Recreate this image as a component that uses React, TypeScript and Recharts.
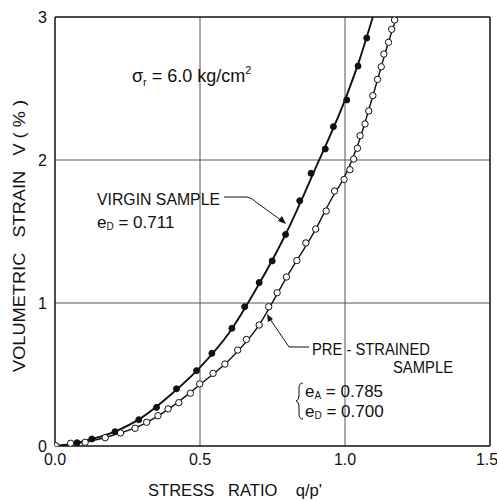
import { ComposedChart, Line, Scatter, XAxis, YAxis, ReferenceLine } from 'recharts';

// stress ratio q/p' vs volumetric strain V (%)
const xTicks = [0, 0.5, 1.0, 1.5];
const yTicks = [0, 1, 2, 3];

// measured points, virgin sample (filled dots)
const virginPoints = [
  { q: 0.076, v: 0.023 }, { q: 0.127, v: 0.049 }, { q: 0.207, v: 0.10 }, { q: 0.289, v: 0.184 },
  { q: 0.350, v: 0.27 }, { q: 0.419, v: 0.40 }, { q: 0.488, v: 0.527 }, { q: 0.541, v: 0.648 },
  { q: 0.610, v: 0.823 }, { q: 0.654, v: 0.974 }, { q: 0.704, v: 1.143 }, { q: 0.749, v: 1.294 },
  { q: 0.795, v: 1.479 }, { q: 0.844, v: 1.715 }, { q: 0.883, v: 1.907 }, { q: 0.932, v: 2.077 },
  { q: 0.960, v: 2.233 }, { q: 1.006, v: 2.420 }, { q: 1.045, v: 2.657 }, { q: 1.075, v: 2.853 },
];

// measured points, pre-strained sample (open dots)
const preStrainedPoints = [
  { q: 0.003, v: 0.002 }, { q: 0.054, v: 0.019 }, { q: 0.104, v: 0.026 }, { q: 0.173, v: 0.058 },
  { q: 0.226, v: 0.091 }, { q: 0.276, v: 0.124 }, { q: 0.316, v: 0.166 }, { q: 0.355, v: 0.212 },
  { q: 0.390, v: 0.259 }, { q: 0.427, v: 0.303 }, { q: 0.467, v: 0.369 }, { q: 0.499, v: 0.434 },
  { q: 0.545, v: 0.508 }, { q: 0.586, v: 0.573 }, { q: 0.630, v: 0.671 }, { q: 0.660, v: 0.745 },
  { q: 0.704, v: 0.846 }, { q: 0.737, v: 0.974 }, { q: 0.766, v: 1.072 }, { q: 0.798, v: 1.182 },
  { q: 0.834, v: 1.297 }, { q: 0.865, v: 1.420 }, { q: 0.899, v: 1.517 }, { q: 0.935, v: 1.643 },
  { q: 0.964, v: 1.783 }, { q: 0.997, v: 1.864 }, { q: 1.017, v: 1.932 }, { q: 1.030, v: 2.007 },
  { q: 1.043, v: 2.082 }, { q: 1.052, v: 2.170 }, { q: 1.069, v: 2.252 }, { q: 1.082, v: 2.343 },
  { q: 1.096, v: 2.450 }, { q: 1.112, v: 2.564 }, { q: 1.125, v: 2.652 }, { q: 1.134, v: 2.741 },
  { q: 1.150, v: 2.823 }, { q: 1.161, v: 2.914 }, { q: 1.171, v: 2.979 },
];

// hand-drawn fitted curves
const virginCurve = [
  { q: 0, v: 0 }, { q: 0.05, v: 0.012 }, { q: 0.1, v: 0.035 }, { q: 0.2, v: 0.095 },
  { q: 0.3, v: 0.2 }, { q: 0.4, v: 0.36 }, { q: 0.5, v: 0.55 }, { q: 0.6, v: 0.79 },
  { q: 0.7, v: 1.12 }, { q: 0.8, v: 1.5 }, { q: 0.9, v: 1.95 }, { q: 1.0, v: 2.42 },
  { q: 1.05, v: 2.7 }, { q: 1.096, v: 3.0 },
];

const preStrainedCurve = [
  { q: 0, v: 0 }, { q: 0.05, v: 0.01 }, { q: 0.1, v: 0.025 }, { q: 0.2, v: 0.075 },
  { q: 0.3, v: 0.148 }, { q: 0.4, v: 0.27 }, { q: 0.5, v: 0.43 }, { q: 0.6, v: 0.6 },
  { q: 0.7, v: 0.835 }, { q: 0.8, v: 1.185 }, { q: 0.9, v: 1.52 }, { q: 0.95, v: 1.715 },
  { q: 1.0, v: 1.89 }, { q: 1.05, v: 2.14 }, { q: 1.1, v: 2.476 }, { q: 1.15, v: 2.825 },
  { q: 1.178, v: 3.0 },
];

const FONT = "'Liberation Sans', Arial, sans-serif";
const INK = '#111';

const filledDot = (p: any) => <circle cx={p.cx} cy={p.cy} r={3} fill={INK} stroke={INK} strokeWidth={1} />;
const openDot = (p: any) => <circle cx={p.cx} cy={p.cy} r={3.2} fill="#fff" stroke={INK} strokeWidth={1} />;

export default function App() {
  return (
    <div style={{ position: 'absolute', left: 0, top: 0, width: 497, height: 502, background: '#fff' }}>
      <ComposedChart width={497} height={502} margin={{ top: 17, right: 7, left: 15, bottom: 26 }}>
        <XAxis
          type="number"
          dataKey="q"
          domain={[0, 1.5]}
          ticks={xTicks}
          allowDataOverflow
          height={30}
          tickLine={false}
          tickSize={6}
          tickMargin={2}
          tickFormatter={(v: number) => v.toFixed(1)}
          axisLine={{ stroke: INK, strokeWidth: 1.5 }}
          tick={{ fill: INK, fontSize: 16, fontFamily: FONT }}
        />
        <YAxis
          type="number"
          dataKey="v"
          domain={[0, 3]}
          ticks={yTicks}
          allowDataOverflow
          width={40}
          tickLine={false}
          tickSize={6}
          tickMargin={2}
          axisLine={{ stroke: INK, strokeWidth: 1.5 }}
          tick={{ fill: INK, fontSize: 16, fontFamily: FONT }}
        />
        <ReferenceLine x={0.5} stroke="#555" strokeWidth={1} />
        <ReferenceLine x={1.0} stroke="#555" strokeWidth={1} />
        <ReferenceLine y={1} stroke="#555" strokeWidth={1} />
        <ReferenceLine y={2} stroke="#555" strokeWidth={1} />
        <ReferenceLine y={3} stroke={INK} strokeWidth={1.5} />
        <ReferenceLine x={1.5} stroke={INK} strokeWidth={1.5} />
        <Line data={virginCurve} dataKey="v" type="monotone" dot={false} stroke={INK} strokeWidth={1.9} isAnimationActive={false} />
        <Line data={preStrainedCurve} dataKey="v" type="monotone" dot={false} stroke={INK} strokeWidth={1.4} isAnimationActive={false} />
        <Scatter data={virginPoints} dataKey="v" shape={filledDot} isAnimationActive={false} />
        <Scatter data={preStrainedPoints} dataKey="v" shape={openDot} isAnimationActive={false} />
      </ComposedChart>

      <svg width={497} height={502} style={{ position: 'absolute', left: 0, top: 0, pointerEvents: 'none' }} fontFamily={FONT} fill={INK}>
        <text transform="translate(25,236) rotate(-90)" textAnchor="middle" fontSize={17} textLength={272} lengthAdjust="spacingAndGlyphs" xmlSpace="preserve">
          VOLUMETRIC   STRAIN   V ( % )
        </text>
        <text x={148} y={496} fontSize={16} textLength={174} lengthAdjust="spacingAndGlyphs" xmlSpace="preserve">
          STRESS   RATIO    q/p'
        </text>

        <text x={132} y={82} fontSize={18}>
          <tspan>σ</tspan>
          <tspan fontSize={11} dy={4}>r</tspan>
          <tspan dy={-4}> = 6.0 kg/cm</tspan>
          <tspan fontSize={11} dy={-8}>2</tspan>
        </text>

        <text x={97} y={205} fontSize={16} textLength={123} lengthAdjust="spacingAndGlyphs">VIRGIN SAMPLE</text>
        <text x={97} y={228} fontSize={17}>
          <tspan>e</tspan>
          <tspan fontSize={10} dy={2}>D</tspan>
          <tspan dy={-2}> = 0.711</tspan>
        </text>
        <path d="M 224 197 L 247 197 Q 252 198 256 202 L 282 221" stroke={INK} strokeWidth={1} fill="none" />
        <path d="M 286 224 L 278 221 L 282 216 Z" fill={INK} />

        <text x={312} y={355} fontSize={16} textLength={118} lengthAdjust="spacingAndGlyphs">PRE - STRAINED</text>
        <text x={393} y={373} fontSize={16} textLength={60} lengthAdjust="spacingAndGlyphs">SAMPLE</text>
        <path d="M 309 347 L 289 347 L 270 319" stroke={INK} strokeWidth={1} fill="none" />
        <path d="M 267 314 L 268 322 L 273 319 Z" fill={INK} />

        <path d="M 303 383 Q 299 383 299 388 L 299 396 Q 299 400 296 401 Q 299 402 299 406 L 299 414 Q 299 419 303 419" stroke={INK} strokeWidth={1} fill="none" />
        <text x={305} y={397} fontSize={17}>
          <tspan>e</tspan>
          <tspan fontSize={10} dy={2}>A</tspan>
          <tspan dy={-2}> = 0.785</tspan>
        </text>
        <text x={305} y={417} fontSize={17}>
          <tspan>e</tspan>
          <tspan fontSize={10} dy={2}>D</tspan>
          <tspan dy={-2}> = 0.700</tspan>
        </text>
      </svg>
    </div>
  );
}
